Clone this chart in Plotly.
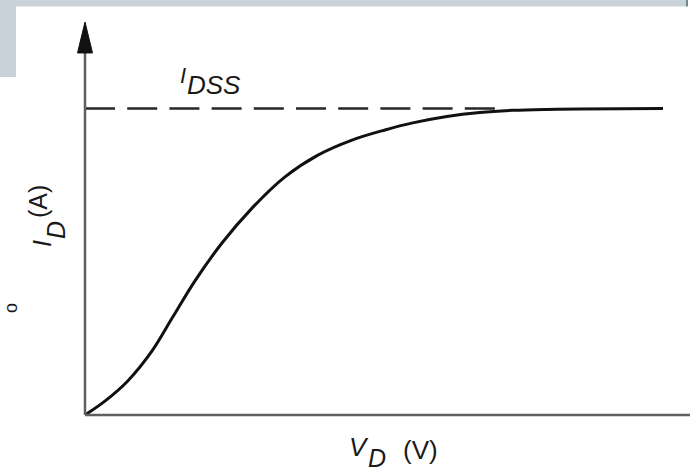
import plotly.graph_objects as go

# Drain voltage (arbitrary volts) and normalised drain current (I_D / I_DSS)
vd = [0.0, 0.35, 0.74, 1.16, 1.51, 1.90, 2.37, 2.89, 3.46, 4.03, 4.62,
      5.19, 5.67, 6.26, 6.83, 7.40, 7.99, 8.56, 10.0]
id_norm = [0.0, 0.046, 0.111, 0.209, 0.317, 0.437, 0.561, 0.675, 0.777, 0.848,
           0.897, 0.930, 0.953, 0.974, 0.987, 0.994, 0.997, 0.998, 1.0]

idss_level = 1.0        # saturation current I_DSS
idss_dash_end = 7.13    # where the dashed reference line stops

W, H = 690, 473
X_RANGE = [-1.4706, 10.467]
Y_RANGE = [-0.18923, 1.354]
Y_AXIS_TOP = 1.2822     # tip of the arrow on the I_D axis
ARROW_LEN = 0.101
ARROW_HALF_W = 0.1298

AXIS_COLOR = "#5f5f5f"
FONT = "Liberation Sans, Arial, sans-serif"

def px(x):
    return x / W

def py(y):
    return 1 - y / H

fig = go.Figure()

# dashed I_DSS reference
fig.add_trace(go.Scatter(
    x=[0, idss_dash_end], y=[idss_level, idss_level], mode="lines",
    line=dict(color="#262626", width=2.5, dash="30px,12.2px"),
    hoverinfo="skip", showlegend=False))

# I_D vs V_D characteristic
fig.add_trace(go.Scatter(
    x=vd, y=id_norm, mode="lines", line_shape="spline",
    line=dict(color="#111111", width=3, smoothing=1.0),
    hoverinfo="skip", showlegend=False))

shapes = [
    # page decorations
    dict(type="rect", xref="paper", yref="paper", x0=0, x1=px(686), y0=py(6.5), y1=1,
         fillcolor="#c8d2d8", line_width=0, layer="below"),
    dict(type="rect", xref="paper", yref="paper", x0=0, x1=px(16), y0=py(77), y1=1,
         fillcolor="#c8d2d8", line_width=0, layer="below"),
    dict(type="rect", xref="paper", yref="paper", x0=px(686), x1=px(688), y0=py(6.5), y1=1,
         fillcolor="#6e8a8f", line_width=0, layer="below"),
    # axes
    dict(type="line", xref="x", yref="y", x0=0, x1=X_RANGE[1], y0=0, y1=0,
         line=dict(color=AXIS_COLOR, width=2.5)),
    dict(type="line", xref="x", yref="y", x0=0, x1=0, y0=0, y1=Y_AXIS_TOP - ARROW_LEN,
         line=dict(color=AXIS_COLOR, width=2.5)),
    dict(type="path", xref="x", yref="y",
         path=(f"M {-ARROW_HALF_W},{Y_AXIS_TOP - ARROW_LEN} L 0,{Y_AXIS_TOP} "
               f"L {ARROW_HALF_W},{Y_AXIS_TOP - ARROW_LEN} Z"),
         fillcolor="#111111", line=dict(color="#111111", width=1)),
]

def label(text, x, y, size, angle=0, height=None):
    ann = dict(text=text, xref="paper", yref="paper", x=px(x), y=py(y),
               xanchor="center", yanchor="middle", showarrow=False,
               textangle=angle, font=dict(family=FONT, size=size, color="#1a1a1a"))
    if height is not None:
        ann["height"] = height
    return ann

annotations = [
    label("<i>I</i>", 183, 75, 22),
    label("<i>DSS</i>", 214, 85, 26),
    label("<i>V</i>", 359, 447, 26),
    label("<i>D</i>", 377, 458, 25, height=20),
    label("(V)", 420, 450, 26),
    label("<i>I</i>", 42, 244, 25, -90),
    label("<i>D</i>", 56, 230, 25, -90),
    label("(A)", 38, 202, 25, -90),
    label("o", 11, 308, 18, -90),
]

fig.update_layout(
    width=W, height=H, margin=dict(l=0, r=0, t=0, b=0),
    paper_bgcolor="white", plot_bgcolor="white",
    xaxis=dict(range=X_RANGE, visible=False, fixedrange=True),
    yaxis=dict(range=Y_RANGE, visible=False, fixedrange=True),
    shapes=shapes, annotations=annotations,
)

fig.write_html("out.html")
